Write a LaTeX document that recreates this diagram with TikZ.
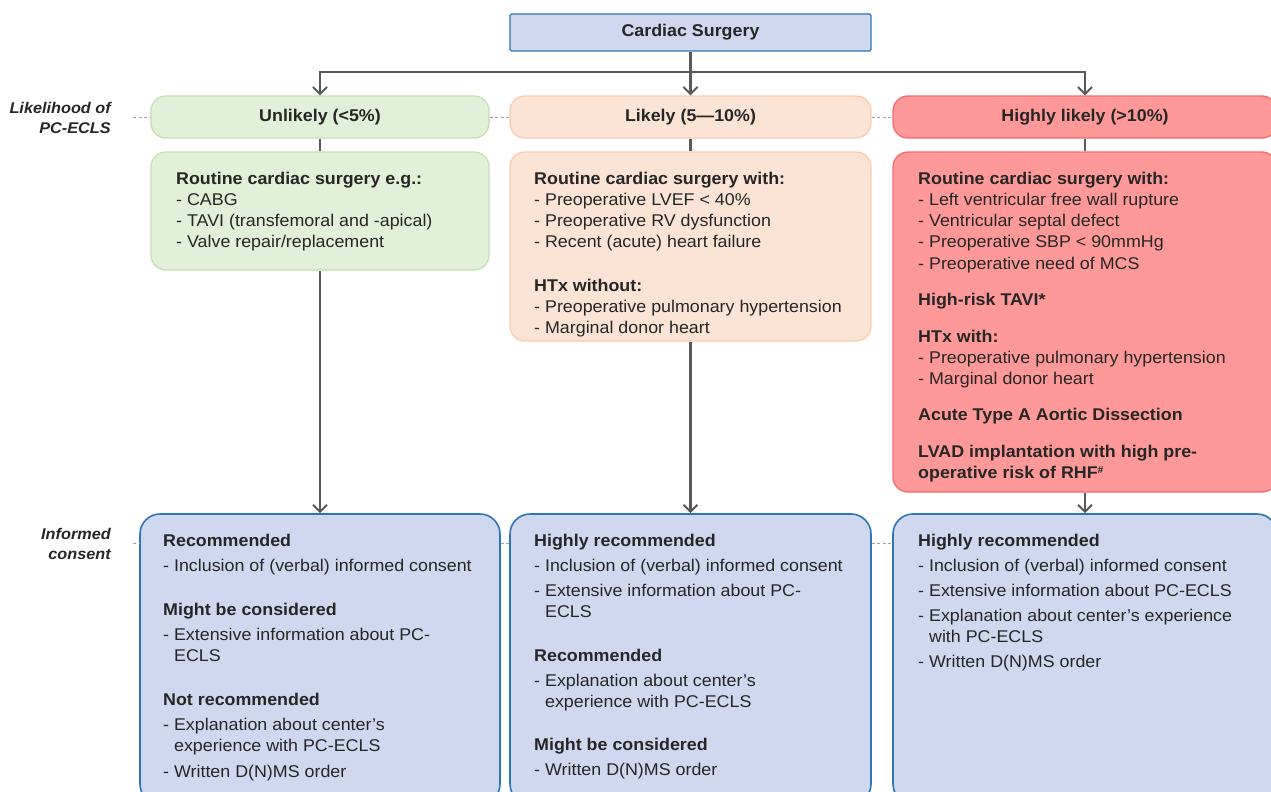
\documentclass[tikz,border=0pt]{standalone}
\usepackage{fontspec}
\setmainfont{Liberation Sans}[FakeStretch=1.05]
\usetikzlibrary{arrows.meta}
\definecolor{txt}{HTML}{262626}
\definecolor{arr}{HTML}{595959}
\definecolor{bluefill}{HTML}{CFD8EE}
\definecolor{blueline}{HTML}{2E75B6}
\definecolor{greenfill}{HTML}{E2EFD9}
\definecolor{greenline}{HTML}{C5E0B4}
\definecolor{orangefill}{HTML}{FBE4D5}
\definecolor{orangeline}{HTML}{F8CBAD}
\definecolor{redfill}{HTML}{FF9999}
\definecolor{redline}{HTML}{F26B6E}
\definecolor{dashgray}{HTML}{A0A0A0}
\tikzset{
  basefont/.style={font=\fontsize{17}{21.2}\selectfont, text=txt},
  topbox/.style={draw=blueline, fill=bluefill, line width=1.3pt, rounded corners=1.5pt, minimum width=361, minimum height=37, basefont, font=\fontsize{17}{21.2}\selectfont\bfseries},
  likebox/.style={line width=1.3pt, rounded corners=15pt, minimum height=42, basefont, font=\fontsize{17}{21.2}\selectfont\bfseries},
  contentbox/.style={line width=1.3pt, rounded corners=15pt},
  consentbox/.style={draw=blueline, fill=bluefill, line width=1.6pt, rounded corners=20pt},
  boxtext/.style={anchor=north west, inner sep=0pt, align=left, basefont},
  sidelabel/.style={anchor=north east, inner sep=0pt, align=right, font=\fontsize{15.5}{20}\selectfont\bfseries\itshape, text=txt},
  flow/.style={draw=arr, line width=2.2pt},
  flowarrow/.style={flow, -{Straight Barb[length=7pt, width=14pt, line width=2pt]}},
  guide/.style={draw=dashgray, line width=0.8pt, dash pattern=on 3pt off 2.5pt},
}
\newcommand{\hd}[1]{\textbf{#1}}
\newcommand{\ind}{\phantom{- }}
\newcommand{\st}{\rule{0pt}{13pt}}
\begin{document}
\begin{tikzpicture}[x=1pt,y=-1pt]
\useasboundingbox (0,0) rectangle (1271,792);
\clip (0,0) rectangle (1271,792);

% top
\node[topbox] (cs) at (690.5,32.5) {Cardiac Surgery};

% likelihood boxes
\node[likebox, draw=greenline, fill=greenfill, minimum width=338] (lu) at (320,117) {Unlikely (<5\%)};
\node[likebox, draw=orangeline, fill=orangefill, minimum width=361] (ll) at (690.5,117) {Likely (5—10\%)};
\node[likebox, draw=redline, fill=redfill, minimum width=384] (lh) at (1085,117) {Highly likely (>10\%)};

% content boxes
\node[contentbox, draw=greenline, fill=greenfill, minimum width=338, minimum height=118] (cu) at (320,211) {};
\node[contentbox, draw=orangeline, fill=orangefill, minimum width=361, minimum height=189] (cl) at (690.5,246.5) {};
\node[contentbox, draw=redline, fill=redfill, minimum width=384, minimum height=340] (ch) at (1085,322) {};

% consent boxes
\node[consentbox, minimum width=360, minimum height=290] (iu) at (320,659) {};
\node[consentbox, minimum width=361, minimum height=290] (il) at (690.5,659) {};
\node[consentbox, minimum width=384, minimum height=290] (ih) at (1085,659) {};

% side labels
\node[sidelabel] (lab1) at (111,102) {Likelihood of\\PC-ECLS};
\node[sidelabel] (lab2) at (111,528) {Informed\\consent};
\coordinate (g1) at (133,117);
\coordinate (g2) at (133,543);

% guides
\draw[guide] (g1) -- (lu.west);
\draw[guide] (lu.east) -- (ll.west);
\draw[guide] (ll.east) -- (lh.west);
\draw[guide] (g2) -- (g2 -| iu.west);
\draw[guide] (g2 -| iu.east) -- (g2 -| il.west);
\draw[guide] (g2 -| il.east) -- (g2 -| ih.west);

% connectors
\coordinate (split) at (690.5,72);
\draw[flow] (cs.south) -- (split);
\draw[flowarrow] (split) -| (lu.north);
\draw[flowarrow] (split) -- (ll.north);
\draw[flowarrow] (split) -| (lh.north);
\draw[flow] (lu.south) -- (cu.north);
\draw[flow] (ll.south) -- (cl.north);
\draw[flow] (lh.south) -- (ch.north);
\draw[flowarrow] (cu.south) -- (iu.north);
\draw[flowarrow] (cl.south) -- (il.north);
\draw[flowarrow] (ch.south) -- (ih.north);

% content texts
\node[boxtext] (tu) at (176,171) {\st\hd{Routine cardiac surgery e.g.:}\\
- CABG\\
- TAVI (transfemoral and -apical)\\
- Valve repair/replacement};

\node[boxtext] (tl) at (534,171) {\st\hd{Routine cardiac surgery with:}\\
- Preoperative LVEF < 40\%\\
- Preoperative RV dysfunction\\
- Recent (acute) heart failure\\[22.5pt]
\hd{HTx without:}\\
- Preoperative pulmonary hypertension\\
- Marginal donor heart};

\node[boxtext] (th) at (918,171) {\st\hd{Routine cardiac surgery with:}\\
- Left ventricular free wall rupture\\
- Ventricular septal defect\\
- Preoperative SBP < 90mmHg\\
- Preoperative need of MCS\\[15.3pt]
\hd{High-risk TAVI*}\\[15.3pt]
\hd{HTx with:}\\
- Preoperative pulmonary hypertension\\
- Marginal donor heart\\[15.3pt]
\hd{Acute Type A Aortic Dissection}\\[15.3pt]
\hd{LVAD implantation with high pre-}\\
\hd{operative risk of RHF\raisebox{5pt}{\fontsize{10}{10}\selectfont\#}}};

% consent texts
\node[boxtext] (su) at (163,533) {\st\hd{Recommended}\\[3.8pt]
- Inclusion of (verbal) informed consent\\[22.8pt]
\hd{Might be considered}\\[3.8pt]
- Extensive information about PC-\\
\ind ECLS\\[22.8pt]
\hd{Not recommended}\\[3.8pt]
- Explanation about center’s\\
\ind experience with PC-ECLS\\[4.8pt]
- Written D(N)MS order};

\node[boxtext] (sl) at (534,533) {\st\hd{Highly recommended}\\[3.8pt]
- Inclusion of (verbal) informed consent\\[3.8pt]
- Extensive information about PC-\\
\ind ECLS\\[22.8pt]
\hd{Recommended}\\[3.8pt]
- Explanation about center’s\\
\ind experience with PC-ECLS\\[21.8pt]
\hd{Might be considered}\\[3.8pt]
- Written D(N)MS order};

\node[boxtext] (sh) at (918,533) {\st\hd{Highly recommended}\\[3.8pt]
- Inclusion of (verbal) informed consent\\[3.8pt]
- Extensive information about PC-ECLS\\[3.8pt]
- Explanation about center’s experience\\
\ind with PC-ECLS\\[3.8pt]
- Written D(N)MS order};
\end{tikzpicture}
\end{document}
